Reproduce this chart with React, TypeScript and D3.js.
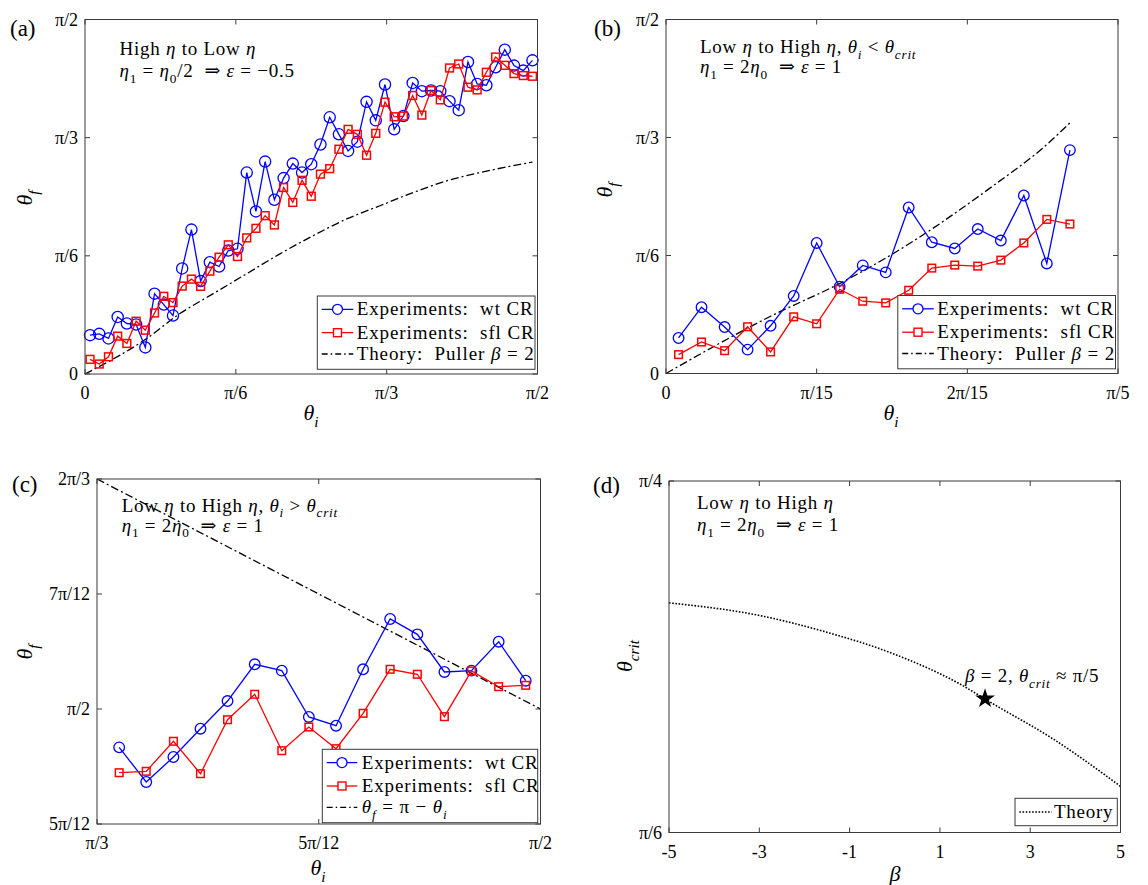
import React from 'react';
import * as d3 from 'd3';

// ---------------- DATA (angles in degrees) ----------------
const thetaI = [1, 2.83, 4.67, 6.5, 8.33, 10.17, 12, 13.83, 15.67, 17.5, 19.33, 21.17, 23, 24.83, 26.67, 28.5, 30.33, 32.17, 34, 35.83, 37.67, 39.5, 41.33, 43.17, 45, 46.83, 48.67, 50.5, 52.33, 54.17, 56, 57.83, 59.67, 61.5, 63.33, 65.17, 67, 68.83, 70.67, 72.5, 74.33, 76.17, 78, 79.83, 81.67, 83.5, 85.33, 87.17, 89];

// panel (a): high eta to low eta
const wtA = [9.86, 10.19, 9.03, 14.49, 12.82, 12.56, 6.75, 20.40, 17.62, 14.84,
  26.80, 36.66, 23.59, 28.39, 27.30, 31.35, 31.78, 51.14, 41.28, 53.92,
  44.24, 49.73, 53.42, 51.14, 53.27, 58.27, 65.17, 60.85, 56.63, 58.98,
  69.09, 64.39, 73.49, 62.11, 65.48, 73.89, 71.80, 71.97, 71.80, 69.27,
  66.99, 79.20, 73.64, 73.31, 77.86, 82.34, 78.29, 77.03, 79.63];
const sflA = [3.72, 2.53, 4.37, 9.61, 7.76, 13.40, 11.12, 15.50, 19.72, 18.13,
  22.32, 24.09, 22.25, 26.11, 29.65, 32.79, 29.83, 34.56, 36.98, 40.20,
  37.84, 47.35, 43.56, 49.17, 45.13, 50.74, 52.13, 57.06, 62.11, 60.85,
  55.54, 61.10, 69.01, 65.30, 65.48, 70.71, 65.73, 71.97, 69.60, 77.69,
  78.70, 72.81, 72.13, 76.60, 80.47, 78.37, 76.27, 75.77, 75.59];
const theoryAx = [0, 12.27, 18.89, 25.52, 32.16, 38.78, 45.41, 52.05, 58.67, 65.30, 71.94, 78.56, 89];
const theoryAy = [0, 9.02, 15.35, 20.40, 25.46, 30.51, 35.14, 39.36, 42.72, 46.09, 49.04, 51.14, 53.8];

// panel (b): low to high, theta_i < theta_crit
const thetaIB = thetaI.slice(0, 18);
const wtB = [9.03, 16.86, 11.81, 6.07, 12.13, 19.72, 33.19, 22.07, 27.48, 25.71, 42.22, 33.37, 31.78, 36.73, 33.80, 45.25, 27.98, 56.80];
const sflB = [4.80, 8.01, 5.81, 11.88, 5.49, 14.41, 12.64, 21.41, 18.38, 17.95, 21.16, 26.80, 27.56, 27.30, 28.82, 33.19, 39.18, 38.00];
const theoryBx = [0, 8.29, 13.86, 18.11, 26.08, 30.06, 32.33];
const theoryBy = [0, 14.49, 22.93, 30.51, 47.78, 57.46, 64.2];

// panel (c): low to high, theta_i > theta_crit
const thetaIC = thetaI.slice(33);
const wtC = [85.0, 80.48, 83.74, 87.43, 91.04, 95.83, 95.0, 88.96, 87.82, 95.18, 101.74, 99.74, 94.83, 95.0, 98.78, 93.69];
const sflC = [81.69, 81.87, 85.79, 81.56, 88.60, 91.92, 84.56, 87.65, 84.82, 89.44, 95.18, 94.53, 89.0, 94.96, 92.91, 93.09];
const theoryCx = [60, 90];
const theoryCy = [120, 90];

// panel (d): theta_crit vs beta
const betaD = [-5, -3.02, -1.53, -0.05, 1.43, 2.17, 3.50, 5];
const critD = [39.80, 39.27, 38.56, 37.64, 36.35, 35.50, 34.00, 31.97];
const starBeta = [2];
const starCrit = [35.71];

// ticks
const ticksAX = [0, 30, 60, 90];
const labelsAX = ['0', 'π/6', 'π/3', 'π/2'];
const ticksAY = [0, 30, 60, 90];
const labelsAY = ['0', 'π/6', 'π/3', 'π/2'];
const ticksBX = [0, 12, 24, 36];
const labelsBX = ['0', 'π/15', '2π/15', 'π/5'];
const ticksCX = [60, 75, 90];
const labelsCX = ['π/3', '5π/12', 'π/2'];
const ticksCY = [75, 90, 105, 120];
const labelsCY = ['5π/12', 'π/2', '7π/12', '2π/3'];
const ticksDX = [-5, -3, -1, 1, 3, 5];
const labelsDX = ['-5', '-3', '-1', '1', '3', '5'];
const ticksDY = [30, 45];
const labelsDY = ['π/6', 'π/4'];

// ---------------- LAYOUT ----------------
const FONT = '"Liberation Serif", "DejaVu Serif", serif';
const AX = '#3a3a3a';
const BLUE = '#0000ff';
const RED = '#ff0000';
const DASHDOT = '8,3,2,3';

type Box = { left: number; right: number; top: number; bottom: number };
const boxA: Box = { left: 85, right: 537.5, top: 19.5, bottom: 374 };
const boxB: Box = { left: 666, right: 1118, top: 19.5, bottom: 373.5 };
const boxC: Box = { left: 97, right: 540.5, top: 479, bottom: 824 };
const boxD: Box = { left: 669, right: 1120.5, top: 481, bottom: 832.5 };

type Seg = { t: string; i?: boolean; sub?: boolean };

function MText({ x, y, segs, size = 18, anchor = 'start', transform, ls = 0 }: { x: number; y: number; segs: Seg[]; size?: number; anchor?: string; transform?: string; ls?: number }) {
  let cur = 0;
  return (
    <text x={x} y={y} textAnchor={anchor as any} transform={transform} style={{ whiteSpace: 'pre', fontFamily: FONT, fontSize: size, letterSpacing: ls }} fill="#000">
      {segs.map((s, k) => {
        const target = s.sub ? size * 0.3 : 0;
        const dy = target - cur;
        cur = target;
        return (
          <tspan key={k} dy={dy} style={{ fontStyle: s.i ? 'italic' : 'normal', fontSize: s.sub ? size * 0.7 : size }}>{s.t}</tspan>
        );
      })}
    </text>
  );
}

function Txt({ x, y, size = 18, anchor = 'start', ls = 0, children }: any) {
  return <text x={x} y={y} textAnchor={anchor} style={{ fontFamily: FONT, fontSize: size, letterSpacing: ls }} fill="#000">{children}</text>;
}

function Axes({ box, x, y, xt, xl, yt, yl }: any) {
  const tl = 5;
  return (
    <g>
      {xt.map((t: number, i: number) => (
        <g key={'x' + i}>
          <line x1={x(t)} x2={x(t)} y1={box.bottom} y2={box.bottom - tl} stroke={AX} />
          <line x1={x(t)} x2={x(t)} y1={box.top} y2={box.top + tl} stroke={AX} />
          <Txt x={x(t)} y={box.bottom + 25} anchor="middle">{xl[i]}</Txt>
        </g>
      ))}
      {yt.map((t: number, i: number) => (
        <g key={'y' + i}>
          <line x1={box.left} x2={box.left + tl} y1={y(t)} y2={y(t)} stroke={AX} />
          <line x1={box.right} x2={box.right - tl} y1={y(t)} y2={y(t)} stroke={AX} />
          <Txt x={box.left - 7} y={y(t) + 6} anchor="end">{yl[i]}</Txt>
        </g>
      ))}
      <rect x={box.left} y={box.top} width={box.right - box.left} height={box.bottom - box.top} fill="none" stroke={AX} strokeWidth={1} />
    </g>
  );
}

function Series({ xs, ys, x, y, color, marker, r }: any) {
  const line = d3.line<number>().x((_, i) => x(xs[i])).y((d) => y(d));
  return (
    <g>
      <path d={line(ys) || ''} fill="none" stroke={color} strokeWidth={1.3} />
      {ys.map((v: number, i: number) =>
        marker === 'o' ? (
          <circle key={i} cx={x(xs[i])} cy={y(v)} r={r} fill="none" stroke={color} strokeWidth={1.3} />
        ) : (
          <rect key={i} x={x(xs[i]) - r} y={y(v) - r} width={2 * r} height={2 * r} fill="none" stroke={color} strokeWidth={1.5} />
        )
      )}
    </g>
  );
}

function Theory({ xs, ys, x, y, dash, width = 1.3 }: any) {
  const line = d3.line<number>().x((_, i) => x(xs[i])).y((d) => y(d)).curve(d3.curveMonotoneX);
  return <path d={line(ys) || ''} fill="none" stroke="#000" strokeWidth={width} strokeDasharray={dash} />;
}

function Legend({ left, top, width, height, rows, lineEnd, textX }: any) {
  return (
    <g>
      <rect x={left} y={top} width={width} height={height} fill="#fff" stroke={AX} strokeWidth={1} />
      {rows.map((r: any, i: number) => {
        const cy = top + r.dy;
        const mx = left + (4.4 + lineEnd) / 2;
        return (
          <g key={i}>
            <line x1={left + 4.4} x2={left + lineEnd} y1={cy} y2={cy} stroke={r.color} strokeWidth={1.3} strokeDasharray={r.dash} />
            {r.marker === 'o' && <circle cx={mx} cy={cy} r={5} fill="#fff" stroke={r.color} strokeWidth={1.3} />}
            {r.marker === 's' && <rect x={mx - 4} y={cy - 4} width={8} height={8} fill="#fff" stroke={r.color} strokeWidth={1.4} />}
            <MText x={left + textX} y={cy + 6} segs={r.segs} size={19} ls={0.9} />
          </g>
        );
      })}
    </g>
  );
}

export default function App() {
  const xA = d3.scaleLinear().domain([0, 90]).range([boxA.left, boxA.right]);
  const yA = d3.scaleLinear().domain([0, 90]).range([boxA.bottom, boxA.top]);
  const xB = d3.scaleLinear().domain([0, 36]).range([boxB.left, boxB.right]);
  const yB = d3.scaleLinear().domain([0, 90]).range([boxB.bottom, boxB.top]);
  const xC = d3.scaleLinear().domain([60, 90]).range([boxC.left, boxC.right]);
  const yC = d3.scaleLinear().domain([75, 120]).range([boxC.bottom, boxC.top]);
  const xD = d3.scaleLinear().domain([-5, 5]).range([boxD.left, boxD.right]);
  const yD = d3.scaleLinear().domain([30, 45]).range([boxD.bottom, boxD.top]);

  const star = d3.symbol().type(d3.symbolStar).size(120)() || '';

  const expRows = (third: Seg[]) => [
    { dy: 13.3, color: BLUE, marker: 'o', segs: [{ t: 'Experiments:  wt CR' }] },
    { dy: 36.7, color: RED, marker: 's', segs: [{ t: 'Experiments:  sfl CR' }] },
    { dy: 58, color: '#000', dash: '6,3,1.5,3', segs: third },
  ];
  const pullerSegs: Seg[] = [{ t: 'Theory:  Puller ' }, { t: 'β', i: true }, { t: ' = 2' }];
  const LS = 0.75;

  return (
    <svg width={1148} height={885} style={{ position: 'absolute', left: 0, top: 0, background: '#fff', fontFamily: FONT }}>
      <rect x={0} y={0} width={1148} height={885} fill="#fff" />

      {/* ---------- (a) ---------- */}
      <Theory xs={theoryAx} ys={theoryAy} x={xA} y={yA} dash={DASHDOT} />
      <Series xs={thetaI} ys={wtA} x={xA} y={yA} color={BLUE} marker="o" r={5.6} />
      <Series xs={thetaI} ys={sflA} x={xA} y={yA} color={RED} marker="s" r={3.9} />
      <Axes box={boxA} x={xA} y={yA} xt={ticksAX} xl={labelsAX} yt={ticksAY} yl={labelsAY} />
      <Legend left={317.3} top={296} width={217.7} height={73.3} lineEnd={36} textX={39.4} rows={expRows(pullerSegs)} />
      <MText x={119.5} y={55} size={19} ls={LS} segs={[{ t: 'High ' }, { t: 'η', i: true }, { t: ' to Low ' }, { t: 'η', i: true }]} />
      <MText x={119.5} y={77} size={19} ls={LS} segs={[{ t: 'η', i: true }, { t: '1', sub: true }, { t: ' = ' }, { t: 'η', i: true }, { t: '0', sub: true }, { t: '/2  ⇒ ' }, { t: 'ε', i: true }, { t: ' = −0.5' }]} />
      <Txt x={10} y={36} size={23}>(a)</Txt>
      <MText x={311} y={420} anchor="middle" size={22} segs={[{ t: 'θ', i: true }, { t: 'i', i: true, sub: true }]} />
      <MText x={0} y={0} anchor="middle" size={22} transform={`translate(32,198) rotate(-90)`} segs={[{ t: 'θ', i: true }, { t: 'f', i: true, sub: true }]} />

      {/* ---------- (b) ---------- */}
      <Theory xs={theoryBx} ys={theoryBy} x={xB} y={yB} dash={DASHDOT} />
      <Series xs={thetaIB} ys={wtB} x={xB} y={yB} color={BLUE} marker="o" r={5.3} />
      <Series xs={thetaIB} ys={sflB} x={xB} y={yB} color={RED} marker="s" r={3.8} />
      <Axes box={boxB} x={xB} y={yB} xt={ticksBX} xl={labelsBX} yt={ticksAY} yl={labelsAY} />
      <Legend left={897.8} top={295.5} width={217.7} height={73.3} lineEnd={36} textX={39.4} rows={expRows(pullerSegs)} />
      <MText x={700} y={53} size={19} ls={LS} segs={[{ t: 'Low ' }, { t: 'η', i: true }, { t: ' to High ' }, { t: 'η', i: true }, { t: ', ' }, { t: 'θ', i: true }, { t: 'i', i: true, sub: true }, { t: ' < ' }, { t: 'θ', i: true }, { t: 'crit', i: true, sub: true }]} />
      <MText x={700} y={73} size={19} ls={LS} segs={[{ t: 'η', i: true }, { t: '1', sub: true }, { t: ' = 2' }, { t: 'η', i: true }, { t: '0', sub: true }, { t: '  ⇒ ' }, { t: 'ε', i: true }, { t: ' = 1' }]} />
      <Txt x={594} y={36} size={23}>(b)</Txt>
      <MText x={891} y={420} anchor="middle" size={22} segs={[{ t: 'θ', i: true }, { t: 'i', i: true, sub: true }]} />
      <MText x={0} y={0} anchor="middle" size={22} transform={`translate(612,190) rotate(-90)`} segs={[{ t: 'θ', i: true }, { t: 'f', i: true, sub: true }]} />

      {/* ---------- (c) ---------- */}
      <Theory xs={theoryCx} ys={theoryCy} x={xC} y={yC} dash={DASHDOT} />
      <Series xs={thetaIC} ys={wtC} x={xC} y={yC} color={BLUE} marker="o" r={5.3} />
      <Series xs={thetaIC} ys={sflC} x={xC} y={yC} color={RED} marker="s" r={3.8} />
      <Axes box={boxC} x={xC} y={yC} xt={ticksCX} xl={labelsCX} yt={ticksCY} yl={labelsCY} />
      <Legend left={322.3} top={749.3} width={215.4} height={73.4} lineEnd={35} textX={39.4}
        rows={expRows([{ t: 'θ', i: true }, { t: 'f', i: true, sub: true }, { t: ' = π − ' }, { t: 'θ', i: true }, { t: 'i', i: true, sub: true }])} />
      <MText x={121.7} y={511.7} size={19} ls={LS} segs={[{ t: 'Low ' }, { t: 'η', i: true }, { t: ' to High ' }, { t: 'η', i: true }, { t: ', ' }, { t: 'θ', i: true }, { t: 'i', i: true, sub: true }, { t: ' > ' }, { t: 'θ', i: true }, { t: 'crit', i: true, sub: true }]} />
      <MText x={121.7} y={531.7} size={19} ls={LS} segs={[{ t: 'η', i: true }, { t: '1', sub: true }, { t: ' = 2' }, { t: 'η', i: true }, { t: '0', sub: true }, { t: '  ⇒ ' }, { t: 'ε', i: true }, { t: ' = 1' }]} />
      <Txt x={12} y={492} size={23}>(c)</Txt>
      <MText x={318} y={875} anchor="middle" size={22} segs={[{ t: 'θ', i: true }, { t: 'i', i: true, sub: true }]} />
      <MText x={0} y={0} anchor="middle" size={22} transform={`translate(32,652) rotate(-90)`} segs={[{ t: 'θ', i: true }, { t: 'f', i: true, sub: true }]} />

      {/* ---------- (d) ---------- */}
      <Theory xs={betaD} ys={critD} x={xD} y={yD} dash="1.6,1.6" width={1.6} />
      {starBeta.map((b, i) => (
        <path key={i} d={star} transform={`translate(${xD(b)},${yD(starCrit[i])})`} fill="#000" />
      ))}
      <Axes box={boxD} x={xD} y={yD} xt={ticksDX} xl={labelsDX} yt={ticksDY} yl={labelsDY} />
      <g>
        <rect x={1015} y={798.3} width={102.3} height={27.4} fill="#fff" stroke={AX} strokeWidth={1} />
        <line x1={1019.3} x2={1051.7} y1={812} y2={812} stroke="#000" strokeWidth={1.6} strokeDasharray="1.6,1.6" />
        <Txt x={1054} y={818} size={19} ls={0.75}>Theory</Txt>
      </g>
      <MText x={697} y={509} size={19} ls={LS} segs={[{ t: 'Low ' }, { t: 'η', i: true }, { t: ' to High ' }, { t: 'η', i: true }]} />
      <MText x={697} y={531} size={19} ls={LS} segs={[{ t: 'η', i: true }, { t: '1', sub: true }, { t: ' = 2' }, { t: 'η', i: true }, { t: '0', sub: true }, { t: '  ⇒ ' }, { t: 'ε', i: true }, { t: ' = 1' }]} />
      <MText x={965} y={682} size={19} ls={LS} segs={[{ t: 'β', i: true }, { t: ' = 2, ' }, { t: 'θ', i: true }, { t: 'crit', i: true, sub: true }, { t: ' ≈ π/5' }]} />
      <Txt x={593} y={493} size={23}>(d)</Txt>
      <MText x={895} y={881} anchor="middle" size={22} segs={[{ t: 'β', i: true }]} />
      <MText x={0} y={0} anchor="middle" size={22} transform={`translate(632,656) rotate(-90)`} segs={[{ t: 'θ', i: true }, { t: 'crit', i: true, sub: true }]} />
    </svg>
  );
}
